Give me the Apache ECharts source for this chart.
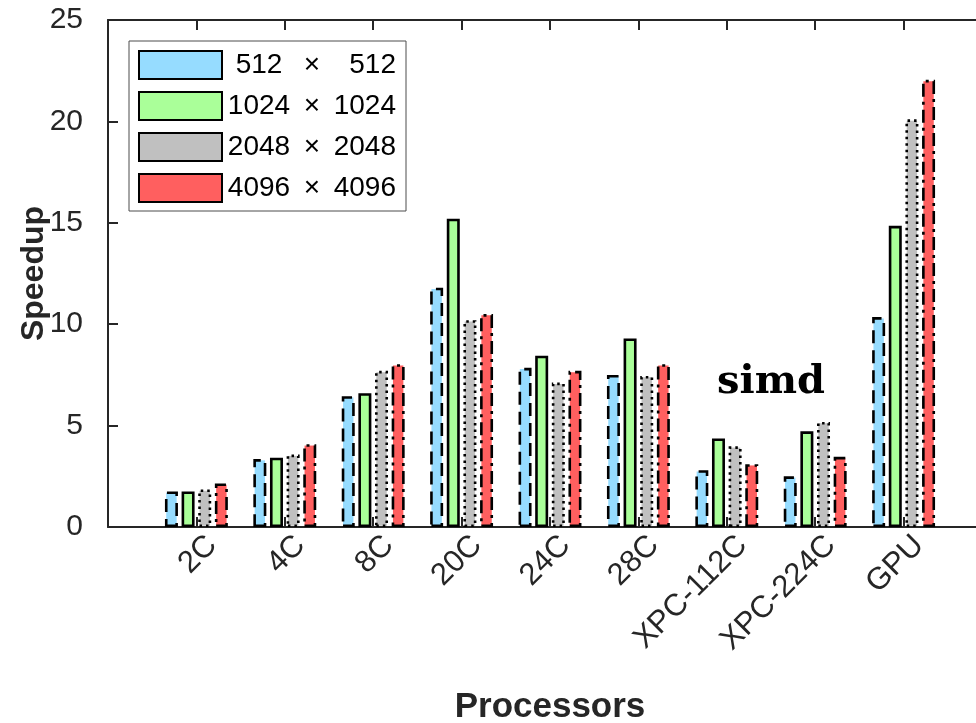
<!DOCTYPE html>
<html>
<head>
<meta charset="utf-8">
<script src="https://cdn.jsdelivr.net/npm/echarts@6/dist/echarts.min.js"></script>
<style>
  html, body { margin: 0; padding: 0; background: #ffffff; }
  #chart { width: 976px; height: 723px; }
</style>
</head>
<body>
<div id="chart"></div>
<script>
// Processor configurations on the x axis
const categories = ['2C', '4C', '8C', '20C', '24C', '28C', 'XPC-112C', 'XPC-224C', 'GPU'];

// Problem sizes (N x N) shown in the legend
const sizes = ['512', '1024', '2048', '4096'];

// Speedup per processor configuration, one array per problem size
const speedup512  = [1.75, 3.35, 6.45, 11.8, 7.85, 7.5, 2.8, 2.5, 10.35];
const speedup1024 = [1.75, 3.42, 6.6, 15.2, 8.45, 9.3, 4.37, 4.72, 14.85];
const speedup2048 = [1.85, 3.57, 7.7, 10.2, 7.12, 7.45, 3.98, 5.18, 20.1];
const speedup4096 = [2.15, 4.08, 8.03, 10.5, 7.7, 8.03, 3.1, 3.46, 22.05];

// Y axis range and tick step
const yMin = 0;
const yMax = 25;
const yStep = 5;

const seriesValues = [speedup512, speedup1024, speedup2048, speedup4096];
const fillColors = ['#96dcff', '#aaff99', '#c0c0c0', '#ff5f5f'];
const edgeStyles = [
  [13, 7],          // dashed
  'solid',
  [2.5, 4],         // dotted
  [13, 5, 3, 5]     // dash-dot
];

const axisColor = '#262626';
const sansFont = '"Liberation Sans", Arial, Helvetica, sans-serif';

// Empty slots before and after the groups leave one category of space at each end
const axisCategories = [''].concat(categories, ['']);
const padValues = v => [null].concat(v, [null]);

const chart = echarts.init(document.getElementById('chart'), null, { renderer: 'canvas' });

const series = seriesValues.map((vals, i) => ({
  name: sizes[i],
  type: 'bar',
  data: padValues(vals),
  barWidth: 13,
  barGap: '28%',
  itemStyle: {
    color: fillColors[i],
    borderColor: '#000000',
    borderWidth: 2.6,
    borderType: edgeStyles[i]
  },
  emphasis: { disabled: true }
}));

const option = {
  animation: false,
  backgroundColor: '#ffffff',
  grid: {
    left: 108, top: 20, right: -16, bottom: 196,
    containLabel: false,
    outerBoundsMode: 'none'
  },
  legend: {
    orient: 'vertical',
    left: 129,
    top: 41,
    padding: [9, 10, 8, 9],
    itemGap: 11,
    itemWidth: 83,
    itemHeight: 28,
    icon: 'rect',
    backgroundColor: '#ffffff',
    borderColor: '#4d4d4d',
    borderWidth: 1,
    borderRadius: 0,
    selectedMode: false,
    data: sizes,
    formatter: name => '{a|' + name + '}{x|\u00d7}{b|' + name + '}',
    textStyle: {
      color: '#000000',
      fontFamily: sansFont,
      fontSize: 28,
      rich: {
        a: { width: 64, align: 'right', fontSize: 28, fontFamily: sansFont, color: '#000' },
        x: { width: 42, align: 'center', fontSize: 28, fontFamily: sansFont, color: '#000' },
        b: { width: 63, align: 'right', fontSize: 28, fontFamily: sansFont, color: '#000' }
      }
    }
  },
  xAxis: [
    {
      type: 'category',
      data: axisCategories,
      boundaryGap: false,
      position: 'bottom',
      name: 'Processors',
      nameLocation: 'middle',
      nameGap: 163,
      nameMoveOverlap: false,
      nameTextStyle: { fontFamily: sansFont, fontWeight: 'bold', fontSize: 35, color: axisColor },
      axisLine: { show: true, lineStyle: { color: axisColor, width: 2 } },
      axisTick: { show: true, inside: true, length: 10, alignWithLabel: true, lineStyle: { color: axisColor, width: 2 } },
      axisLabel: {
        show: true,
        interval: 0,
        rotate: 45,
        margin: -2,
        // an empty spacer line above each label nudges it down-right of its tick
        formatter: v => '{s| }\n{v|' + v + '}',
        rich: {
          s: { fontSize: 10, lineHeight: 44 },
          v: { fontFamily: sansFont, fontSize: 31, color: axisColor }
        },
        fontFamily: sansFont,
        fontSize: 31,
        color: axisColor
      },
      splitLine: { show: false }
    },
    {
      type: 'category',
      data: axisCategories,
      boundaryGap: false,
      position: 'top',
      axisLine: { show: true, lineStyle: { color: axisColor, width: 2 } },
      axisTick: { show: true, inside: true, length: 10, lineStyle: { color: axisColor, width: 2 } },
      axisLabel: { show: false },
      splitLine: { show: false }
    }
  ],
  yAxis: {
    type: 'value',
    min: yMin,
    max: yMax,
    interval: yStep,
    name: 'Speedup',
    nameLocation: 'middle',
    nameGap: 58,
    nameMoveOverlap: false,
    nameTextStyle: { fontFamily: sansFont, fontWeight: 'bold', fontSize: 32, color: axisColor },
    axisLine: { show: true, lineStyle: { color: axisColor, width: 2 } },
    axisTick: { show: true, inside: true, length: 10, lineStyle: { color: axisColor, width: 2 } },
    axisLabel: { margin: 25, fontFamily: sansFont, fontSize: 30, color: axisColor },
    splitLine: { show: false }
  },
  series: series
};

chart.setOption(option);

// "simd" annotation, centred between the two XPC groups in data space
const leftGroup = chart.convertToPixel({ gridIndex: 0 }, [categories.indexOf('XPC-112C') + 1, 7.1]);
const rightGroup = chart.convertToPixel({ gridIndex: 0 }, [categories.indexOf('XPC-224C') + 1, 7.1]);
chart.setOption({
  graphic: [{
    type: 'text',
    x: (leftGroup[0] + rightGroup[0]) / 2,
    y: leftGroup[1],
    z: 100,
    style: {
      text: 'simd',
      fill: '#000000',
      font: 'bold 40px "DejaVu Serif", serif',
      fontFamily: '"DejaVu Serif", serif',
      fontWeight: 'bold',
      fontSize: 40,
      align: 'center',
      verticalAlign: 'middle',
      textAlign: 'center',
      textVerticalAlign: 'middle'
    }
  }]
});
</script>
</body>
</html>
